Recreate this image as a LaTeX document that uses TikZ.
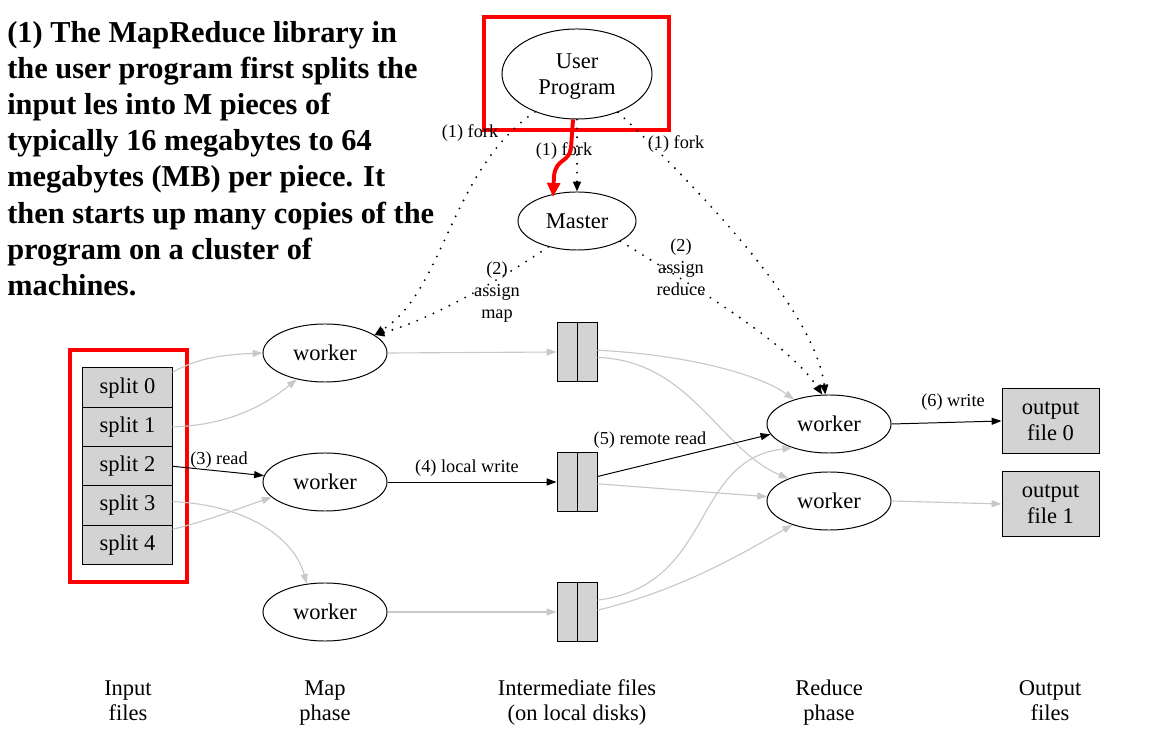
\documentclass[tikz,border=0pt]{standalone}
\usepackage{fontspec}
\setmainfont{Liberation Serif}
\usetikzlibrary{arrows.meta,shapes.geometric,calc}
\definecolor{boxfill}{RGB}{211,211,211}
\definecolor{edgegray}{RGB}{200,200,200}
\begin{document}
\begin{tikzpicture}[x=0.025cm,y=-0.025cm,
  ell/.style={draw, ellipse, line width=0.7pt, inner sep=0pt, align=center, font=\fontsize{16}{18.5}\selectfont},
  worker/.style={ell, minimum width=3.1cm, minimum height=1.45cm},
  splitbox/.style={draw, fill=boxfill, line width=0.7pt, inner sep=0pt, minimum width=2.225cm, minimum height=0.985cm, font=\fontsize{16}{18.5}\selectfont},
  imfile/.style={draw, fill=boxfill, line width=0.7pt, inner sep=0pt, minimum width=1cm, minimum height=1.475cm},
  outfile/.style={draw, fill=boxfill, line width=0.7pt, inner sep=0pt, minimum width=2.425cm, minimum height=1.6cm, align=center, font=\fontsize{16}{18.5}\selectfont},
  lab/.style={inner sep=0pt, align=center, font=\fontsize{13}{15.6}\selectfont},
  phase/.style={inner sep=0pt, align=center, font=\fontsize{16}{17.8}\selectfont},
  garrow/.style={draw=edgegray, line width=0.8pt, -{Triangle[length=7pt,width=5pt]}},
  barrow/.style={draw=black, line width=0.7pt, -{Triangle[length=7pt,width=5pt]}},
  dotarrow/.style={draw=black, line width=1.5pt, line cap=round, dash pattern=on 0pt off 6.3pt, -{Triangle[length=7pt,width=5.5pt]}},
  redframe/.style={draw=red, line width=2.2pt}
]
\fill[white] (0,0) rectangle (1151,753);
\useasboundingbox (0,0) rectangle (1151,753);

% left explanatory text
\node[anchor=north west, inner sep=0pt, align=left, font=\fontsize{21.6}{25.7}\selectfont\bfseries] (txt) at (7,21)
{(1) The MapReduce library in\\
the user program first splits the\\
input les into M pieces of\\
typically 16 megabytes to 64\\
megabytes (MB) per piece. It\\
then starts up many copies of the\\
program on a cluster of\\
machines.};

% nodes
\node[ell, minimum width=3.75cm, minimum height=2.25cm, text depth=0pt] (up) at (577,74) {User\\Program};
\node[ell, minimum width=2.95cm, minimum height=1.45cm] (ms) at (577,221) {Master};

\node[splitbox] (s0) at (127.5,387.65) {split 0};
\node[splitbox] (s1) at (127.5,426.95) {split 1};
\node[splitbox] (s2) at (127.5,466.25) {split 2};
\node[splitbox] (s3) at (127.5,505.55) {split 3};
\node[splitbox] (s4) at (127.5,544.85) {split 4};

\node[worker] (w1) at (325,353) {worker};
\node[worker] (w2) at (325,482) {worker};
\node[worker] (w3) at (325,612) {worker};

\node[imfile] (i1) at (577,352) {};
\node[imfile] (i2) at (577,482) {};
\node[imfile] (i3) at (577,612) {};
\foreach \n in {i1,i2,i3} \draw[line width=0.7pt] (\n.north) -- (\n.south);

\node[worker] (r1) at (829,424) {worker};
\node[worker] (r2) at (829,501) {worker};

\node[outfile] (o0) at (1050.5,421) {output\\file 0};
\node[outfile] (o1) at (1050.5,504) {output\\file 1};

% red highlight frames
\draw[redframe] (484,17) rectangle (669,130);
\draw[redframe] (70,350) rectangle (187,582);

% fork / assign (dotted)
\draw[dotarrow] (up.south) -- (ms.north);
\draw[dotarrow] (up.222) .. controls (450,170) and (445,290) .. (w1.20);
\draw[dotarrow] (up.-43) .. controls (700,190) and (815,310) .. (r1.97);
\draw[dotarrow] (ms.222) .. controls (500,280) and (430,320) .. (w1.20);
\draw[dotarrow] (ms.-25) .. controls (700,290) and (790,345) .. (r1.103);

\node[lab] (lf1) at (470,133) {(1) fork};
\node[lab] (lf2) at (564,151) {(1) fork};
\node[lab] (lf3) at (676,144) {(1) fork};
\node[lab] (lam) at (497,292) {(2)\\assign\\map};
\node[lab] (lar) at (681,267) {(2)\\assign\\reduce};

% red arrow
\coordinate (redend) at (553,197);
\draw[red, line width=2.8pt, -{Triangle[length=10pt,width=9pt]}] (up.265) -- (571,148) .. controls (569,163) and (556,158) .. (554,176) -- (redend);

% map side
\draw[garrow] (s0.19) .. controls (195,360) and (215,355) .. (w1.west);
\draw[garrow] (s1.east) .. controls (230,425) and (265,405) .. (w1.223);
\draw[barrow] (s2.east) -- (w2.174);
\draw[garrow] (s3.5) .. controls (250,505) and (295,540) .. (w3.123);
\draw[garrow] (s4.19) .. controls (210,520) and (240,508) .. (w2.196);
\node[lab] (l3) at (219,460) {(3) read};

\draw[garrow] (w1.east) -- (i1.west);
\draw[barrow] (w2.east) -- (i2.west);
\draw[garrow] (w3.east) -- (i3.west);
\node[lab] (l4) at (467,468) {(4) local write};

% reduce side
\draw[garrow] (i1.5) .. controls (690,355) and (760,375) .. (r1.145);
\draw[garrow] (i1.-15) .. controls (690,360) and (720,450) .. (r2.151);
\draw[barrow] (i2.15) -- (r1.190);
\draw[garrow] (i2.-5) -- (r2.176);
\draw[garrow] (i3.30) .. controls (715,585) and (690,460) .. (r1.213);
\draw[garrow] (i3.5) .. controls (680,590) and (740,555) .. (r2.213);
\node[lab] (l5) at (650,440) {(5) remote read};

\draw[barrow] (r1.east) -- (o0.west);
\draw[garrow] (r2.east) -- (o1.west);
\node[lab] (l6) at (953,402) {(6) write};

% phase captions
\node[phase] (c1) at (128,703) {\strut Input\\\strut files};
\node[phase] (c2) at (325,703) {\strut Map\\\strut phase};
\node[phase] (c3) at (577,703) {\strut Intermediate files\\\strut (on local disks)};
\node[phase] (c4) at (829,703) {\strut Reduce\\\strut phase};
\node[phase] (c5) at (1050,703) {\strut Output\\\strut files};
\end{tikzpicture}
\end{document}
